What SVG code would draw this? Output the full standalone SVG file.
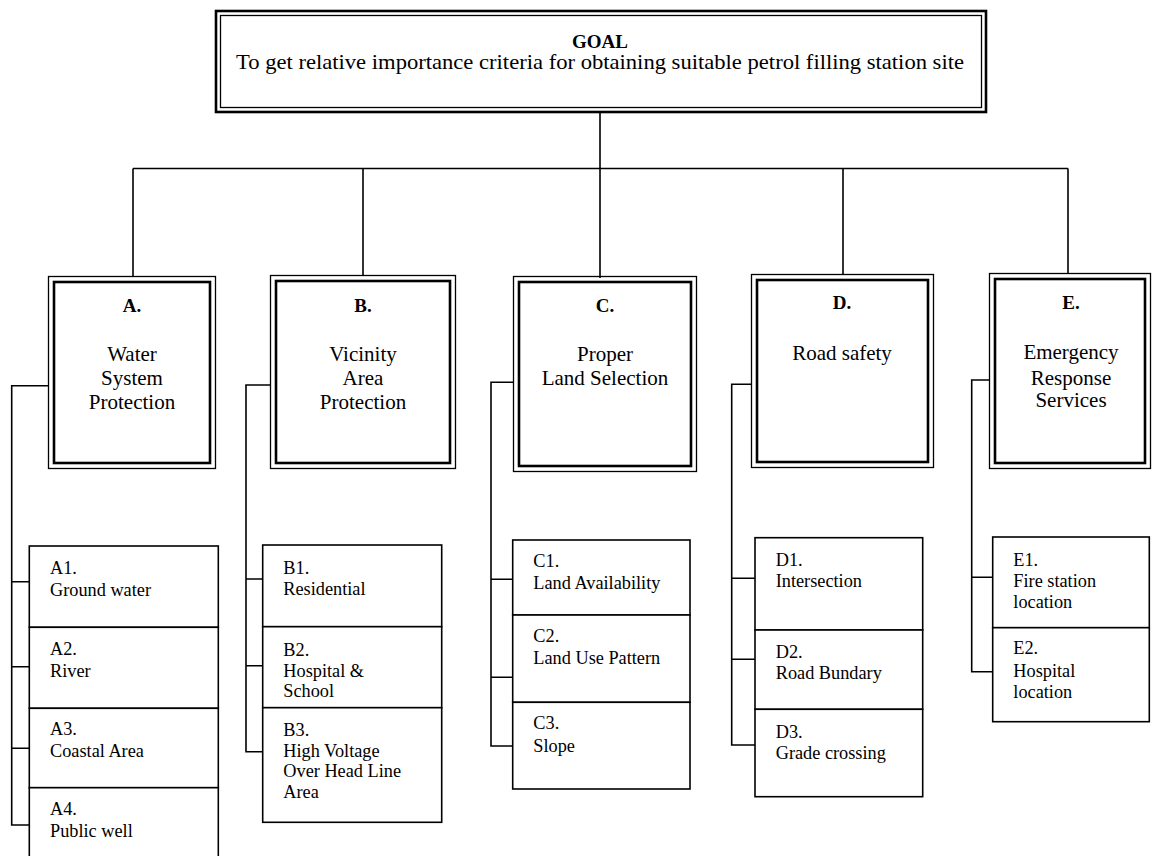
<svg xmlns="http://www.w3.org/2000/svg" width="1153" height="856" viewBox="0 0 1153 856">
  <style>
    .bg { fill: #ffffff; }
    .thick { fill: none; stroke: #000; stroke-width: 2.6; }
    .thin { fill: none; stroke: #000; stroke-width: 1.3; }
    .cell { fill: #ffffff; stroke: #000; stroke-width: 1.6; }
    .wire { fill: none; stroke: #000; stroke-width: 1.6; }
    text { font-family: "Liberation Serif", "Times New Roman", serif; fill: #000; }
    .head { font-weight: bold; font-size: 19px; text-anchor: middle; }
    .crit { font-size: 21px; text-anchor: middle; }
    .sub { font-size: 18.3px; }
    .goal { font-size: 21.5px; text-anchor: middle; }
  </style>
  <rect class="bg" x="0" y="0" width="1153" height="856"/>

  <!-- connectors -->
  <g id="connectors">
    <path class="wire" d="M600,112 V168.5 M133,168.5 H1068 M133,168.5 V276 M363,168.5 V275 M600,168.5 V278 M843,168.5 V274 M1068,168.5 V273"/>
    <path class="wire" d="M48,385.7 H11.7 V825 H29.3 M11.7,581.7 H29.3 M11.7,666.7 H29.3 M11.7,748.3 H29.3"/>
    <path class="wire" d="M270,385 H246 V751.7 H262.7 M246,579 H262.7 M246,665.7 H262.7"/>
    <path class="wire" d="M513,382.3 H491 V746 H512.7 M491,579.3 H512.7 M491,677.3 H512.7"/>
    <path class="wire" d="M751,384.3 H731.7 V745 H755 M731.7,578.3 H755 M731.7,659.3 H755"/>
    <path class="wire" d="M989,380 H971.7 V671.7 H992.7 M971.7,577.3 H992.7"/>
  </g>

  <!-- goal -->
  <g id="goal">
    <rect class="thick" x="216" y="11" width="770" height="101"/>
    <rect class="thin" x="220.5" y="15.5" width="761" height="92"/>
    <text class="head" x="600" y="48">GOAL</text>
    <text class="goal" x="600" y="69" textLength="728" lengthAdjust="spacingAndGlyphs">To get relative importance criteria for obtaining suitable petrol filling station site</text>
  </g>

  <!-- criteria -->
  <g id="crit-a">
    <rect class="thin" x="48.5" y="276.5" width="167" height="192"/>
    <rect class="thick" x="54" y="282" width="156" height="181"/>
    <text class="head" x="132" y="311.7">A.</text>
    <text class="crit" x="132" y="360.7">Water</text>
    <text class="crit" x="132" y="385">System</text>
    <text class="crit" x="132" y="409.3">Protection</text>
  </g>
  <g id="crit-b">
    <rect class="thin" x="270.5" y="275.5" width="185" height="193"/>
    <rect class="thick" x="276" y="281" width="174" height="182"/>
    <text class="head" x="363" y="311.7">B.</text>
    <text class="crit" x="363" y="360.7">Vicinity</text>
    <text class="crit" x="363" y="385">Area</text>
    <text class="crit" x="363" y="409.3">Protection</text>
  </g>
  <g id="crit-c">
    <rect class="thin" x="513.5" y="276.5" width="183" height="195"/>
    <rect class="thick" x="519" y="282" width="172" height="184"/>
    <text class="head" x="605" y="312.3">C.</text>
    <text class="crit" x="605" y="360.7">Proper</text>
    <text class="crit" x="605" y="385">Land Selection</text>
  </g>
  <g id="crit-d">
    <rect class="thin" x="751.5" y="274.5" width="182" height="193"/>
    <rect class="thick" x="757" y="280" width="171" height="182"/>
    <text class="head" x="842" y="309.3">D.</text>
    <text class="crit" x="842" y="360">Road safety</text>
  </g>
  <g id="crit-e">
    <rect class="thin" x="989.5" y="273.5" width="161" height="195"/>
    <rect class="thick" x="995" y="279" width="150" height="184"/>
    <text class="head" x="1071" y="309.3">E.</text>
    <text class="crit" x="1071" y="359.3">Emergency</text>
    <text class="crit" x="1071" y="385">Response</text>
    <text class="crit" x="1071" y="407.3">Services</text>
  </g>

  <!-- sub-criteria A -->
  <g id="sub-a">
    <rect class="cell" x="29.3" y="546" width="189" height="81.3"/>
    <rect class="cell" x="29.3" y="627.3" width="189" height="81"/>
    <rect class="cell" x="29.3" y="708.3" width="189" height="79.4"/>
    <rect class="cell" x="29.3" y="787.7" width="189" height="80"/>
    <text class="sub" x="50" y="574.3">A1.</text>
    <text class="sub" x="50" y="595.7">Ground water</text>
    <text class="sub" x="50" y="655">A2.</text>
    <text class="sub" x="50" y="676.7">River</text>
    <text class="sub" x="50" y="735">A3.</text>
    <text class="sub" x="50" y="757.3">Coastal Area</text>
    <text class="sub" x="50" y="815">A4.</text>
    <text class="sub" x="50" y="836.7">Public well</text>
  </g>

  <!-- sub-criteria B -->
  <g id="sub-b">
    <rect class="cell" x="262.7" y="545" width="179" height="81.7"/>
    <rect class="cell" x="262.7" y="626.7" width="179" height="81"/>
    <rect class="cell" x="262.7" y="707.7" width="179" height="114.6"/>
    <text class="sub" x="283.3" y="574">B1.</text>
    <text class="sub" x="283.3" y="595">Residential</text>
    <text class="sub" x="283.3" y="656">B2.</text>
    <text class="sub" x="283.3" y="676.7">Hospital &amp;</text>
    <text class="sub" x="283.3" y="696.5">School</text>
    <text class="sub" x="283.3" y="735.7">B3.</text>
    <text class="sub" x="283.3" y="756.7">High Voltage</text>
    <text class="sub" x="283.3" y="777">Over Head Line</text>
    <text class="sub" x="283.3" y="798">Area</text>
  </g>

  <!-- sub-criteria C -->
  <g id="sub-c">
    <rect class="cell" x="512.7" y="540" width="177.3" height="75"/>
    <rect class="cell" x="512.7" y="615" width="177.3" height="87.3"/>
    <rect class="cell" x="512.7" y="702.3" width="177.3" height="86.7"/>
    <text class="sub" x="533.3" y="566.7">C1.</text>
    <text class="sub" x="533.3" y="589.3">Land Availability</text>
    <text class="sub" x="533.3" y="641.7">C2.</text>
    <text class="sub" x="533.3" y="664">Land Use Pattern</text>
    <text class="sub" x="533.3" y="729.3">C3.</text>
    <text class="sub" x="533.3" y="751.7">Slope</text>
  </g>

  <!-- sub-criteria D -->
  <g id="sub-d">
    <rect class="cell" x="755" y="537.7" width="167.7" height="92.3"/>
    <rect class="cell" x="755" y="630" width="167.7" height="79.3"/>
    <rect class="cell" x="755" y="709.3" width="167.7" height="87.4"/>
    <text class="sub" x="775.7" y="566">D1.</text>
    <text class="sub" x="775.7" y="587.3">Intersection</text>
    <text class="sub" x="775.7" y="657.7">D2.</text>
    <text class="sub" x="775.7" y="679">Road Bundary</text>
    <text class="sub" x="775.7" y="737.7">D3.</text>
    <text class="sub" x="775.7" y="759">Grade crossing</text>
  </g>

  <!-- sub-criteria E -->
  <g id="sub-e">
    <rect class="cell" x="992.7" y="537" width="156.6" height="90.7"/>
    <rect class="cell" x="992.7" y="627.7" width="156.6" height="94"/>
    <text class="sub" x="1013.3" y="566">E1.</text>
    <text class="sub" x="1013.3" y="586.7">Fire station</text>
    <text class="sub" x="1013.3" y="607.7">location</text>
    <text class="sub" x="1013.3" y="654.3">E2.</text>
    <text class="sub" x="1013.3" y="676.7">Hospital</text>
    <text class="sub" x="1013.3" y="698.3">location</text>
  </g>
</svg>
